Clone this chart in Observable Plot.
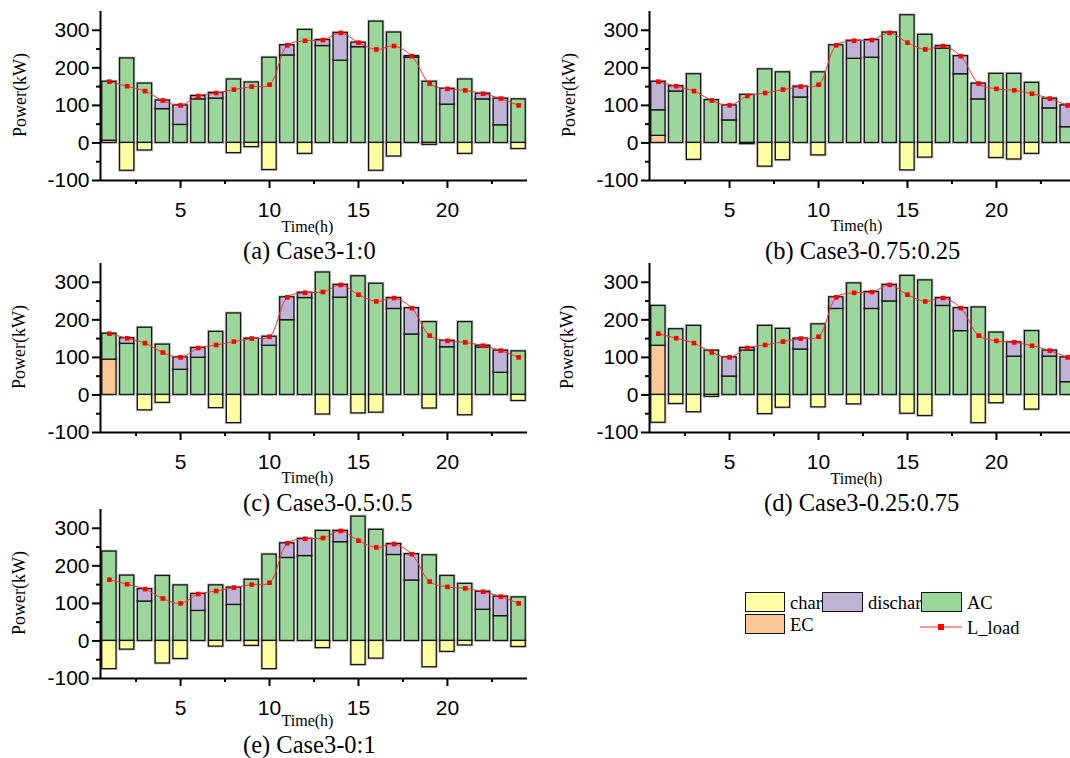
<!DOCTYPE html>
<html>
<head>
<meta charset="utf-8">
<script src="https://cdn.jsdelivr.net/npm/d3@7"></script>
<script src="https://cdn.jsdelivr.net/npm/@observablehq/plot@0.6"></script>
<style>
  body { margin: 0; background: #fff; }
  #fig { position: relative; width: 1070px; height: 758px; overflow: hidden; background: #fff; }
  .panel { position: absolute; width: 540px; height: 240px; }
  .panel svg { max-width: none !important; display: block; }
  .lbl { position: absolute; font-family: "Liberation Serif", "Times New Roman", serif; color: #000; white-space: nowrap; line-height: 1; }
  .ylab { transform: translate(-50%, -50%) rotate(-90deg); font-size: 18px; }
  .xlab { transform: translate(-50%, -50%); font-size: 16px; }
  .cap { transform: translateY(-50%); font-size: 24.5px; }
  .sw { position: absolute; box-sizing: border-box; border: 1.3px solid #111; }
  .lg { position: absolute; font-family: "Liberation Serif", "Times New Roman", serif; font-size: 18.5px; line-height: 1; white-space: nowrap; transform: translateY(-50%); }
</style>
</head>
<body>
<div id="fig"></div>
<script>
// ---- data ----
const hours = [1,2,3,4,5,6,7,8,9,10,11,12,13,14,15,16,17,18,19,20,21,22,23,24];
const loadL = [163,151,138,113,100,125,133,142,150,155,260,272,274,293,267,249,258,231,158,144,140,131,118,100];

// (a) Case3-1:0
const ecA  = [6,0,0,0,0,0,0,0,0,0,0,0,0,0,0,0,0,0,0,0,0,0,0,0];
const acA  = [157,225,158,90,48,116,118,169,161,227,233,301,258,219,255,323,294,227,163,102,169,116,47,116];
const disA = [0,0,0,23,52,9,15,0,0,0,27,0,16,74,12,0,0,4,0,42,0,15,71,0];
const chA  = [0,74,20,0,0,0,0,27,11,72,0,29,0,0,0,74,36,0,5,0,29,0,0,16];

// (b) Case3-0.75:0.25
const ecB  = [19,0,0,0,0,0,0,0,0,0,0,0,0,0,0,0,0,0,0,0,0,0,0,0];
const acB  = [68,137,183,114,60,128,196,188,121,188,260,224,227,294,340,288,251,183,116,184,184,160,92,42];
const disB = [76,14,0,0,40,0,0,0,29,0,0,48,47,0,0,0,7,48,42,0,0,0,26,58];
const chB  = [0,0,45,0,0,3,63,46,0,33,0,0,0,0,73,39,0,0,0,40,44,29,0,0];

// (c) Case3-0.5:0.5
const ecC  = [94,0,0,0,0,0,0,0,0,0,0,0,0,0,0,0,0,0,0,0,0,0,0,0];
const acC  = [69,136,179,134,67,99,168,217,150,131,199,258,326,259,316,296,229,161,194,127,194,126,59,116];
const disC = [0,15,0,0,33,26,0,0,0,24,61,14,0,34,0,0,29,70,0,17,0,5,59,0];
const chC  = [0,0,41,21,0,0,35,75,0,0,0,0,52,0,49,47,0,0,36,0,54,0,0,16];

// (d) Case3-0.25:0.75
const ecD  = [131,0,0,0,0,0,0,0,0,0,0,0,0,0,0,0,0,0,0,0,0,0,0,0];
const acD  = [106,175,184,118,49,118,184,176,121,188,229,297,229,249,317,305,237,170,233,166,102,170,102,34];
const disD = [0,0,0,0,51,7,0,0,29,0,31,0,45,44,0,0,21,61,0,0,38,0,16,66];
const chD  = [74,24,46,5,0,0,51,34,0,33,0,25,0,0,50,56,0,0,75,22,0,39,0,0];

// (e) Case3-0:1
const ecE  = [0,0,0,0,0,0,0,0,0,0,0,0,0,0,0,0,0,0,0,0,0,0,0,0];
const acE  = [238,174,105,173,148,80,148,96,163,230,221,226,293,263,331,296,229,161,228,173,152,83,66,116];
const disE = [0,0,33,0,0,45,0,46,0,0,39,46,0,30,0,0,29,70,0,0,0,48,52,0];
const chE  = [75,23,0,60,48,0,15,0,13,75,0,0,19,0,64,47,0,0,70,29,12,0,0,16];

const xMajor = [5,10,15,20];
const xMinor = [2.5,7.5,12.5,17.5,22.5];
const yMajor = [-100,0,100,200,300];
const yMinor = [-50,50,150,250];

const captions = ["(a) Case3-1:0","(b) Case3-0.75:0.25","(c) Case3-0.5:0.5","(d) Case3-0.25:0.75","(e) Case3-0:1"];
const legendNames = ["char","dischar","AC","EC","L_load"];

const colors = {ch: "#FFFFA3", dis: "#BFB3D8", ac: "#9BD69B", ec: "#FAC896", load: "#ff0000"};

const panels = [
  {ec: ecA, ac: acA, dis: disA, ch: chA, left: 0,   top: 0,   cap: captions[0], capX: 243, capY: 251, xlY: 227, ylX: 20},
  {ec: ecB, ac: acB, dis: disB, ch: chB, left: 549, top: 0,   cap: captions[1], capX: 765, capY: 251, xlY: 226, ylX: 569},
  {ec: ecC, ac: acC, dis: disC, ch: chC, left: 0,   top: 252, cap: captions[2], capX: 243, capY: 503, xlY: 478, ylX: 19},
  {ec: ecD, ac: acD, dis: disD, ch: chD, left: 549, top: 252, cap: captions[3], capX: 764, capY: 503, xlY: 479, ylX: 567},
  {ec: ecE, ac: acE, dis: disE, ch: chE, left: 0,   top: 498, cap: captions[4], capX: 243, capY: 745, xlY: 721, ylX: 19}
];

const fig = document.getElementById("fig");
const W = 540, H = 240, ML = 100, MT = 11, PW = 427, PH = 169;

function addLabel(cls, text, x, y) {
  const d = document.createElement("div");
  d.className = "lbl " + cls;
  d.textContent = text;
  d.style.left = x + "px";
  d.style.top = y + "px";
  fig.appendChild(d);
}

panels.forEach(p => {
  const rows = hours.map((h, i) => ({
    h, ec: p.ec[i], ac: p.ac[i], dis: p.dis[i], ch: p.ch[i], load: loadL[i]
  }));
  const bx = {x1: d => d.h - 0.4, x2: d => d.h + 0.4};
  const sty = {stroke: "#151515", strokeWidth: 1.3};
  const shadow = {stroke: "#999", strokeWidth: 3, strokeOpacity: 0.55};
  const chart = Plot.plot({
    width: W, height: H,
    marginLeft: ML, marginTop: MT, marginRight: W - ML - PW, marginBottom: H - MT - PH,
    x: {domain: [0.5, 24.5], axis: null},
    y: {domain: [-100, 350], axis: null},
    style: {fontFamily: "'Liberation Sans', Arial, sans-serif", fontSize: "21px", overflow: "visible", background: "transparent", maxWidth: "none"},
    marks: [
      // shadows
      Plot.rect(rows.filter(d => d.ec > 0), {...bx, y1: 0, y2: d => d.ec, fill: "none", ...shadow}),
      Plot.rect(rows.filter(d => d.ac > 0), {...bx, y1: d => d.ec, y2: d => d.ec + d.ac, fill: "none", ...shadow}),
      Plot.rect(rows.filter(d => d.dis > 0), {...bx, y1: d => d.ec + d.ac, y2: d => d.ec + d.ac + d.dis, fill: "none", ...shadow}),
      Plot.rect(rows.filter(d => d.ch > 0), {...bx, y1: 0, y2: d => -d.ch, fill: "none", ...shadow}),
      // bars
      Plot.rect(rows.filter(d => d.ec > 0), {...bx, y1: 0, y2: d => d.ec, fill: colors.ec, ...sty}),
      Plot.rect(rows.filter(d => d.ac > 0), {...bx, y1: d => d.ec, y2: d => d.ec + d.ac, fill: colors.ac, ...sty}),
      Plot.rect(rows.filter(d => d.dis > 0), {...bx, y1: d => d.ec + d.ac, y2: d => d.ec + d.ac + d.dis, fill: colors.dis, ...sty}),
      Plot.rect(rows.filter(d => d.ch > 0), {...bx, y1: 0, y2: d => -d.ch, fill: colors.ch, ...sty}),
      // load
      Plot.line(rows, {x: "h", y: "load", stroke: "#ff2a2a", strokeWidth: 1, curve: "catmull-rom"}),
      Plot.dot(rows, {x: "h", y: "load", symbol: "square", r: 2.6, fill: colors.load, stroke: "none"}),
      // axes
      Plot.axisX({ticks: xMajor, tickSize: 8, tickPadding: 14, strokeWidth: 2, label: null, fontSize: 21, tickFormat: d => String(d)}),
      Plot.axisX({ticks: xMinor, tickSize: 4, strokeWidth: 2, label: null, tickFormat: () => ""}),
      Plot.axisY({ticks: yMajor, tickSize: 8, tickPadding: 3, strokeWidth: 2, label: null, fontSize: 21, tickFormat: d => String(d)}),
      Plot.axisY({ticks: yMinor, tickSize: 4, strokeWidth: 2, label: null, tickFormat: () => ""}),
      Plot.ruleY([-100], {stroke: "#000", strokeWidth: 2}),
      Plot.ruleX([0.5], {stroke: "#000", strokeWidth: 2})
    ]
  });
  chart.style.maxWidth = "none";
  const wrap = document.createElement("div");
  wrap.className = "panel";
  wrap.style.left = p.left + "px";
  wrap.style.top = p.top + "px";
  wrap.appendChild(chart);
  fig.appendChild(wrap);

  const cx = p.left + ML + PW / 2 - 6;
  addLabel("xlab", "Time(h)", cx, p.xlY);
  addLabel("ylab", "Power(kW)", p.ylX, p.top + MT + 84);
  addLabel("cap", p.cap, p.capX, p.capY);
});

// ---- legend ----
function swatch(x, y, w, h, fill) {
  const s = document.createElement("div");
  s.className = "sw";
  Object.assign(s.style, {left: x + "px", top: y + "px", width: w + "px", height: h + "px", background: fill});
  fig.appendChild(s);
}
function legText(t, x, y) {
  const d = document.createElement("div");
  d.className = "lg";
  d.textContent = t;
  d.style.left = x + "px";
  d.style.top = y + "px";
  fig.appendChild(d);
}
swatch(745, 592, 40, 20, colors.ch);
legText(legendNames[0], 790, 603);
swatch(822, 592, 41, 20, colors.dis);
legText(legendNames[1], 868, 603);
swatch(921, 592, 41, 20, colors.ac);
legText(legendNames[2], 967, 603);
swatch(745, 614, 40, 20, colors.ec);
legText(legendNames[3], 790, 625);
// L_load sample
const ln = document.createElementNS("http://www.w3.org/2000/svg", "svg");
ln.setAttribute("width", 42); ln.setAttribute("height", 10);
Object.assign(ln.style, {position: "absolute", left: "920px", top: "622px"});
ln.innerHTML = '<line x1="0" y1="5" x2="42" y2="5" stroke="#ff2a2a" stroke-width="1"/><rect x="18" y="2" width="6" height="6" fill="#ff0000"/>';
fig.appendChild(ln);
legText(legendNames[4], 967, 628);
</script>
</body>
</html>
